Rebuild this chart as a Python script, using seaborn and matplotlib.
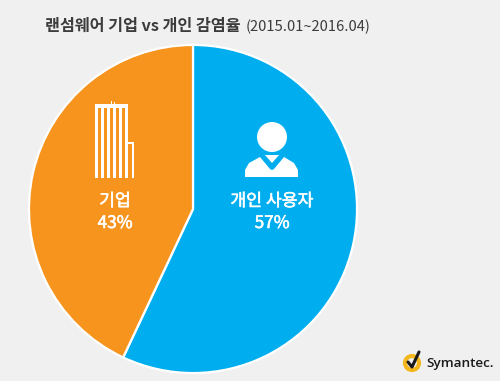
import seaborn as sns
import matplotlib.pyplot as plt
import matplotlib.patheffects as pe
from matplotlib.patches import Rectangle, Circle, Polygon

categories = ["개인 사용자", "기업"]
shares = [57, 43]
colors = ["#00aeef", "#f7941e"]
title_main = "랜섬웨어 기업 vs 개인 감염율"
title_period = "(2015.01~2016.04)"
brand = "Symantec."

bg = "#f0f0f0"

sns.set_theme(style="white")
plt.rcParams['font.family'] = ['Noto Sans CJK KR', 'DejaVu Sans']

fig = plt.figure(figsize=(5, 3.81), dpi=100, facecolor=bg)

# pie axes, placed in pixels of the picture
pie_ax = fig.add_axes([27 / 500, 1 - 375 / 381, 332 / 500, 332 / 381])
pie_ax.pie(shares, colors=colors, startangle=90, counterclock=False, radius=1.0,
           wedgeprops={"edgecolor": "white", "linewidth": 1.6})
pie_ax.set_xlim(-1.012, 1.012)
pie_ax.set_ylim(-1.012, 1.012)

# overlay in pixel coords for the text and icons
ax = fig.add_axes([0, 0, 1, 1])
ax.set_xlim(0, 500)
ax.set_ylim(381, 0)
ax.axis("off")
ax.patch.set_alpha(0)

ax.text(45, 26, title_main, fontsize=11.7, fontweight="bold", color="#3c3c3c", ha="left", va="center")
ax.text(246, 27, title_period, fontsize=10.6, fontweight="medium", color="#3c3c3c", ha="left", va="center")

# regular weight with a thin stroke, the labels sit between regular and bold
thicken = [pe.withStroke(linewidth=0.4, foreground="white")]
for label, share, x in zip(categories, shares, [272, 115]):
    ax.text(x, 201, label, fontsize=12.4, color="white", ha="center", va="center", path_effects=thicken)
    ax.text(x, 223, f"{share}%", fontsize=12.4, color="white", ha="center", va="center", path_effects=thicken)

# building icon
ax.add_patch(Rectangle((95, 104), 33, 4, color="white", lw=0))
for x in [95, 101, 107, 113, 119, 125]:
    ax.add_patch(Rectangle((x, 104), 3, 74, color="white", lw=0))
ax.add_patch(Rectangle((128, 142), 6, 2, color="white", lw=0))
ax.add_patch(Rectangle((131.5, 142), 2.6, 36, color="white", lw=0))
ax.add_patch(Rectangle((111, 101), 1, 4, color="white", lw=0))
ax.add_patch(Rectangle((114, 102), 1, 3, color="white", lw=0))

# person icon
ax.add_patch(Circle((272, 137), 15, color="white", lw=0))
ax.add_patch(Polygon([(245, 177), (245, 170), (249, 163), (260, 157), (270, 169), (272, 170),
                      (274, 169), (284, 157), (294, 163), (298, 170), (298, 177)],
                     closed=True, color="white", lw=0))
ax.add_patch(Polygon([(265, 155), (279, 155), (272, 163)], closed=True, color="white", lw=0))

# Symantec mark
ax.add_patch(Circle((412, 363), 7, facecolor="none", edgecolor="#f5b81c", lw=3))
ax.plot([408, 412, 419], [362, 367, 352], color="#1a1a1a", lw=2.2)
ax.text(426, 364, brand, fontsize=9.7, fontweight="semibold", color="#1a1a1a", ha="left", va="center",
        family=['Open Sans', 'DejaVu Sans'])

plt.savefig("out.png", dpi=100, facecolor=bg)
